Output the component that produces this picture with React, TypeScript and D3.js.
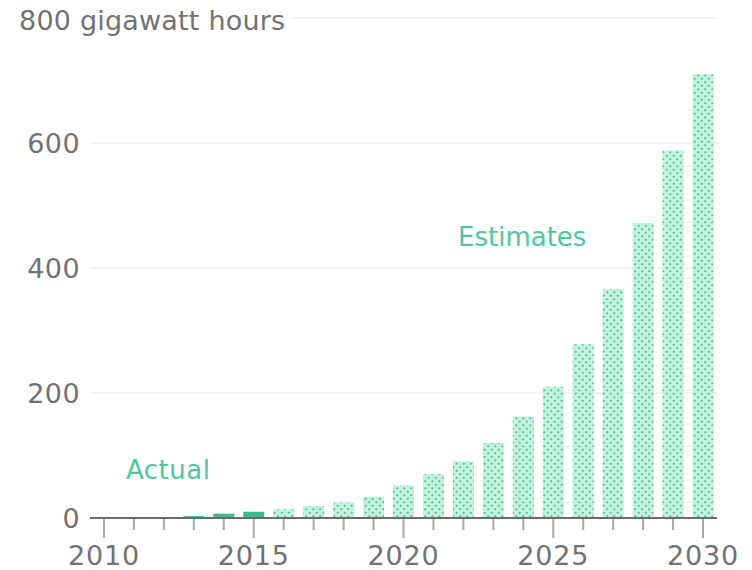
import React from "react";
import * as d3 from "d3";

// Annual generation, gigawatt hours
const actualYears = [2010, 2011, 2012, 2013, 2014, 2015];
const actualValues = [0, 0, 1, 3, 7, 10];
const estimateYears = [2016, 2017, 2018, 2019, 2020, 2021, 2022, 2023, 2024, 2025, 2026, 2027, 2028, 2029, 2030];
const estimateValues = [14, 19, 25, 34, 52, 70, 91, 120, 162, 210, 278, 366, 472, 588, 710];
const yTicks = [0, 200, 400, 600];
const xTickLabels = [2010, 2015, 2020, 2025, 2030];

const W = 752;
const H = 570;
const FONT = "'DejaVu Sans', sans-serif";
const TEXT_GREY = "#727272";
const MINT = "#4fc79c";

export default function App() {
  const years = d3.range(2010, 2031);
  const x = d3
    .scaleBand<number>()
    .domain(years)
    .range([89, 718])
    .paddingInner(0.3)
    .paddingOuter(0.15);
  const y = d3.scaleLinear().domain([0, 800]).range([518, 18]);
  const cx = (yr: number) => (x(yr) as number) + x.bandwidth() / 2;

  const actual = actualYears.map((yr, i) => ({ yr, v: actualValues[i] }));
  const estimates = estimateYears.map((yr, i) => ({ yr, v: estimateValues[i] }));

  return (
    <svg
      width={W}
      height={H}
      viewBox={`0 0 ${W} ${H}`}
      style={{ position: "absolute", left: 0, top: 0, background: "#fff" }}
      fontFamily={FONT}
    >
      <defs>
        <pattern id="dots" width={7} height={7} patternUnits="userSpaceOnUse">
          <rect width={7} height={7} fill="#bcf5dc" />
          <circle cx={1.75} cy={1.75} r={1.1} fill="#72ab97" />
          <circle cx={5.25} cy={5.25} r={1.1} fill="#72ab97" />
        </pattern>
      </defs>

      {/* gridlines */}
      {yTicks
        .filter((t) => t > 0)
        .map((t) => (
          <line key={t} x1={90} x2={718} y1={y(t)} y2={y(t)} stroke="#e8e8e8" strokeWidth={1.2} />
        ))}
      <line x1={290} x2={718} y1={y(800)} y2={y(800)} stroke="#e8e8e8" strokeWidth={1.2} />

      {/* y labels */}
      {yTicks.map((t) => (
        <text
          key={t}
          x={80}
          y={y(t) + 9.5}
          textAnchor="end"
          fontSize={27}
          letterSpacing={0.4}
          fill={TEXT_GREY}
        >
          {t}
        </text>
      ))}
      <text x={19} y={30} fontSize={27} letterSpacing={0.2} fill={TEXT_GREY}>
        800 gigawatt hours
      </text>

      {/* bars */}
      {estimates.map((d) => (
        <rect
          key={d.yr}
          x={x(d.yr)}
          y={y(d.v)}
          width={x.bandwidth()}
          height={y(0) - y(d.v)}
          fill="url(#dots)"
        />
      ))}
      {actual
        .filter((d) => d.v > 0)
        .map((d) => (
          <rect
            key={d.yr}
            x={x(d.yr)}
            y={y(d.v)}
            width={x.bandwidth()}
            height={y(0) - y(d.v)}
            fill="#3dba8c"
          />
        ))}

      {/* x axis */}
      <line x1={90} x2={717} y1={y(0)} y2={y(0)} stroke="#6b6b6b" strokeWidth={2} />
      {years.map((yr) => (
        <line
          key={yr}
          x1={cx(yr)}
          x2={cx(yr)}
          y1={y(0) + 1}
          y2={yr % 5 === 0 ? 538 : 530}
          stroke="#a8a8a8"
          strokeWidth={2}
        />
      ))}
      {xTickLabels.map((yr) => (
        <text
          key={yr}
          x={cx(yr)}
          y={565}
          textAnchor="middle"
          fontSize={27}
          letterSpacing={0.8}
          fill={TEXT_GREY}
        >
          {yr}
        </text>
      ))}

      {/* annotations */}
      <text x={126} y={479} fontSize={26} letterSpacing={0.5} fill={MINT}>
        Actual
      </text>
      <text x={458} y={246} fontSize={26} fill={MINT}>
        Estimates
      </text>
    </svg>
  );
}
